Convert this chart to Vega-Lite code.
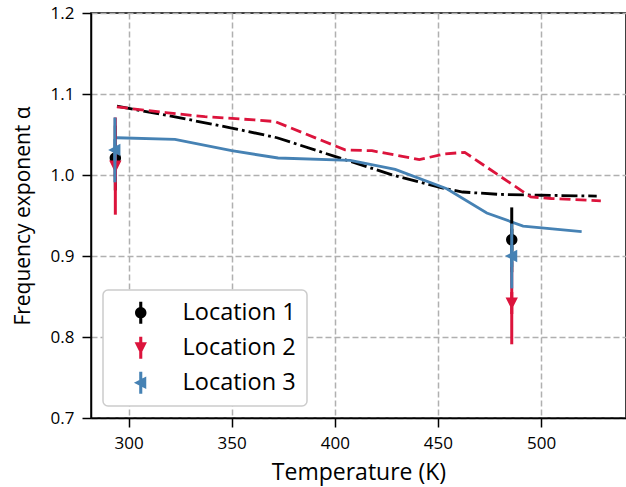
{
  "$schema": "https://vega.github.io/schema/vega-lite/v6.json",
  "width": 535,
  "height": 405,
  "autosize": "none",
  "padding": {"left": 91, "top": 13, "right": 0, "bottom": 69},
  "background": "white",
  "datasets": {
    "lines": [
      {"loc": "Location 1", "T": 294.4, "alpha": 1.085},
      {"loc": "Location 1", "T": 320, "alpha": 1.073},
      {"loc": "Location 1", "T": 350, "alpha": 1.058},
      {"loc": "Location 1", "T": 372, "alpha": 1.046},
      {"loc": "Location 1", "T": 400, "alpha": 1.023},
      {"loc": "Location 1", "T": 428, "alpha": 1.0},
      {"loc": "Location 1", "T": 452, "alpha": 0.984},
      {"loc": "Location 1", "T": 462, "alpha": 0.979},
      {"loc": "Location 1", "T": 480, "alpha": 0.976},
      {"loc": "Location 1", "T": 500, "alpha": 0.975},
      {"loc": "Location 1", "T": 527, "alpha": 0.974},
      {"loc": "Location 2", "T": 294.4, "alpha": 1.084},
      {"loc": "Location 2", "T": 318, "alpha": 1.077},
      {"loc": "Location 2", "T": 337, "alpha": 1.072},
      {"loc": "Location 2", "T": 361, "alpha": 1.068},
      {"loc": "Location 2", "T": 371, "alpha": 1.066},
      {"loc": "Location 2", "T": 405, "alpha": 1.031},
      {"loc": "Location 2", "T": 418, "alpha": 1.03},
      {"loc": "Location 2", "T": 441, "alpha": 1.019},
      {"loc": "Location 2", "T": 453, "alpha": 1.026},
      {"loc": "Location 2", "T": 463, "alpha": 1.028},
      {"loc": "Location 2", "T": 495, "alpha": 0.973},
      {"loc": "Location 2", "T": 505, "alpha": 0.971},
      {"loc": "Location 2", "T": 529, "alpha": 0.968},
      {"loc": "Location 3", "T": 294.3, "alpha": 1.046},
      {"loc": "Location 3", "T": 322.5, "alpha": 1.044},
      {"loc": "Location 3", "T": 350, "alpha": 1.03},
      {"loc": "Location 3", "T": 372.5, "alpha": 1.021},
      {"loc": "Location 3", "T": 407.5, "alpha": 1.018},
      {"loc": "Location 3", "T": 429.3, "alpha": 1.007},
      {"loc": "Location 3", "T": 454.3, "alpha": 0.983},
      {"loc": "Location 3", "T": 473.7, "alpha": 0.953},
      {"loc": "Location 3", "T": 491.3, "alpha": 0.937},
      {"loc": "Location 3", "T": 519.7, "alpha": 0.93}
    ],
    "points": [
      {"loc": "Location 1", "T": 293.6, "alpha": 1.021, "lo": 0.981, "hi": 1.061},
      {"loc": "Location 1", "T": 485.8, "alpha": 0.92, "lo": 0.88, "hi": 0.96},
      {"loc": "Location 2", "T": 293.6, "alpha": 1.011, "lo": 0.951, "hi": 1.071},
      {"loc": "Location 2", "T": 485.8, "alpha": 0.842, "lo": 0.791, "hi": 0.893},
      {"loc": "Location 3", "T": 293.4, "alpha": 1.031, "lo": 0.991, "hi": 1.071},
      {"loc": "Location 3", "T": 485.8, "alpha": 0.9, "lo": 0.86, "hi": 0.94}
    ]
  },
  "config": {
    "font": "Open Sans",
    "view": {"stroke": "black", "strokeWidth": 1.5},
    "axis": {
      "domainColor": "black",
      "domainWidth": 1.5,
      "tickColor": "black",
      "tickWidth": 1.5,
      "tickSize": 9,
      "labelPadding": 8,
      "labelFont": "Open Sans",
      "labelFontSize": 17,
      "labelColor": "black",
      "titleFont": "Open Sans",
      "titleFontWeight": "normal",
      "titleColor": "black",
      "grid": true,
      "gridColor": "#b0b0b0",
      "gridDash": [6, 3],
      "gridWidth": 1.5
    },
    "axisX": {"titlePadding": 10, "titleFontSize": 23},
    "axisY": {"titlePadding": 17, "titleFontSize": 21},
    "legend": {
      "orient": "bottom-left",
      "offset": 12,
      "title": null,
      "fillColor": "white",
      "strokeColor": "#cccccc",
      "strokeWidth": 1.5,
      "cornerRadius": 5,
      "padding": 11,
      "rowPadding": 10,
      "symbolSize": 484,
      "symbolOffset": 15,
      "symbolStrokeWidth": 0,
      "labelOffset": 30,
      "labelFont": "Open Sans",
      "labelFontSize": 23.5,
      "labelColor": "black"
    }
  },
  "encoding": {
    "x": {
      "field": "T",
      "type": "quantitative",
      "title": "Temperature (K)",
      "scale": {"domain": [281.8, 541.2], "nice": false, "zero": false},
      "axis": {"values": [300, 350, 400, 450, 500], "format": "d"}
    },
    "y": {
      "field": "alpha",
      "type": "quantitative",
      "title": "Frequency exponent α",
      "scale": {"domain": [0.7, 1.2], "nice": false, "zero": false},
      "axis": {"values": [0.7, 0.8, 0.9, 1.0, 1.1, 1.2], "format": ".1f"}
    }
  },
  "layer": [
    {
      "data": {"name": "lines"},
      "transform": [{"filter": "datum.loc === 'Location 1'"}],
      "mark": {"type": "line", "color": "black", "strokeWidth": 2.8, "strokeDash": [16, 4, 2.8, 4]}
    },
    {
      "data": {"name": "lines"},
      "transform": [{"filter": "datum.loc === 'Location 2'"}],
      "mark": {"type": "line", "color": "#dc143c", "strokeWidth": 2.8, "strokeDash": [11, 5]}
    },
    {
      "data": {"name": "lines"},
      "transform": [{"filter": "datum.loc === 'Location 3'"}],
      "mark": {"type": "line", "color": "#4682b4", "strokeWidth": 2.8}
    },
    {
      "data": {"name": "points"},
      "transform": [{"filter": "datum.loc === 'Location 1'"}],
      "mark": {"type": "rule", "color": "black", "strokeWidth": 3},
      "encoding": {
        "y": {"field": "lo", "type": "quantitative", "title": "Frequency exponent α"},
        "y2": {"field": "hi"}
      }
    },
    {
      "data": {"name": "points"},
      "transform": [{"filter": "datum.loc === 'Location 1'"}],
      "mark": {"type": "point", "filled": true, "opacity": 1, "size": 484, "strokeWidth": 0},
      "encoding": {
        "color": {"field": "loc", "type": "nominal", "scale": {"domain": ["Location 1", "Location 2", "Location 3"], "range": ["#000000", "#dc143c", "#4682b4"]}, "legend": {"title": null, "orient": "bottom-left"}},
        "shape": {"field": "loc", "type": "nominal", "scale": {"domain": ["Location 1", "Location 2", "Location 3"], "range": [
          "M-0.14,-1H0.14V1H-0.14Z M0.52,0A0.52,0.52 0 1,1 -0.52,0A0.52,0.52 0 1,1 0.52,0Z",
          "M-0.14,-1H0.14V1H-0.14Z M-0.56,-0.5L0.56,-0.5L0,0.62Z",
          "M-0.14,-1H0.14V1H-0.14Z M-0.62,0L0.5,-0.56L0.5,0.56Z"
        ]}, "legend": {"title": null, "orient": "bottom-left"}}
      }
    },
    {
      "data": {"name": "points"},
      "transform": [{"filter": "datum.loc === 'Location 2'"}],
      "mark": {"type": "rule", "color": "#dc143c", "strokeWidth": 3},
      "encoding": {
        "y": {"field": "lo", "type": "quantitative", "title": "Frequency exponent α"},
        "y2": {"field": "hi"}
      }
    },
    {
      "data": {"name": "points"},
      "transform": [{"filter": "datum.loc === 'Location 2'"}],
      "mark": {"type": "point", "filled": true, "opacity": 1, "size": 484, "strokeWidth": 0},
      "encoding": {
        "color": {"field": "loc", "type": "nominal", "legend": {"title": null, "orient": "bottom-left"}},
        "shape": {"field": "loc", "type": "nominal", "legend": {"title": null, "orient": "bottom-left"}}
      }
    },
    {
      "data": {"name": "points"},
      "transform": [{"filter": "datum.loc === 'Location 3'"}],
      "mark": {"type": "rule", "color": "#4682b4", "strokeWidth": 3},
      "encoding": {
        "y": {"field": "lo", "type": "quantitative", "title": "Frequency exponent α"},
        "y2": {"field": "hi"}
      }
    },
    {
      "data": {"name": "points"},
      "transform": [{"filter": "datum.loc === 'Location 3'"}],
      "mark": {"type": "point", "filled": true, "opacity": 1, "size": 484, "strokeWidth": 0},
      "encoding": {
        "color": {"field": "loc", "type": "nominal", "legend": {"title": null, "orient": "bottom-left"}},
        "shape": {"field": "loc", "type": "nominal", "legend": {"title": null, "orient": "bottom-left"}}
      }
    }
  ],
  "resolve": {"scale": {"color": "shared", "shape": "shared"}}
}
